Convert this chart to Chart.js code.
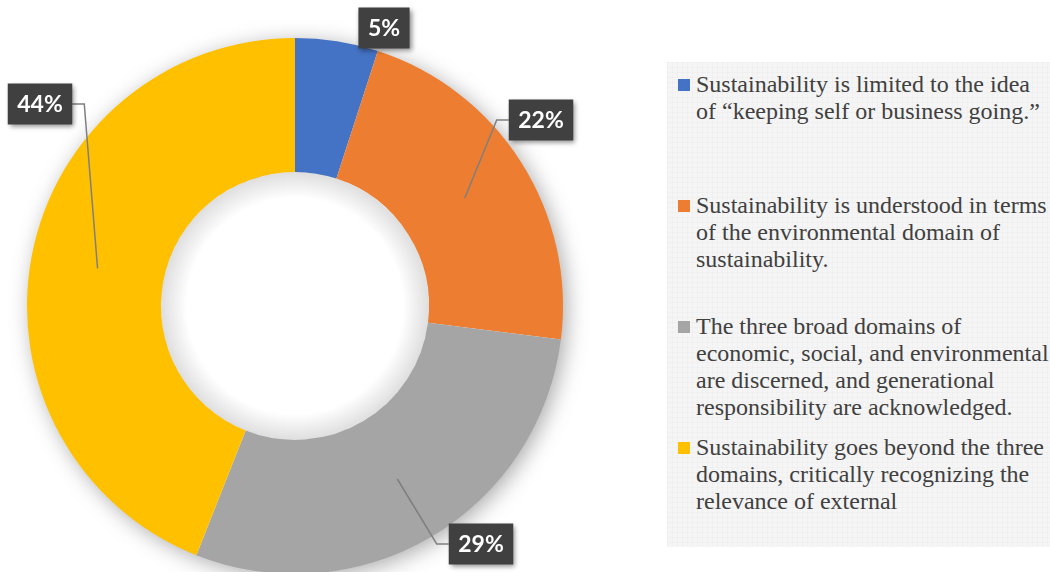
<!DOCTYPE html>
<html>
<head>
<meta charset="utf-8">
<script src="https://cdn.jsdelivr.net/npm/chart.js@4"></script>
<style>
  html, body { margin: 0; padding: 0; background: #fff; overflow: hidden; }
  body { width: 1050px; height: 572px; position: relative; }
  #c { position: absolute; left: 0; top: 0; }
  #legend {
    position: absolute; left: 667px; top: 62px; width: 383px; height: 485px;
    background-color: #f5f5f5;
    background-image:
      linear-gradient(rgba(0,0,0,0.014) 1px, transparent 1px),
      linear-gradient(90deg, rgba(0,0,0,0.014) 1px, transparent 1px);
    background-size: 5px 5px;
  }
  .item { position: absolute; left: 0; width: 383px; }
  .mark { position: absolute; left: 11px; top: 8px; width: 12px; height: 12px; }
  .txt {
    position: absolute; left: 29px; white-space: nowrap;
    font-family: "Liberation Serif", serif; font-size: 24px; line-height: 27px; color: #404040;
  }
</style>
</head>
<body>
<canvas id="c" width="600" height="620"></canvas>
<div id="legend"></div>
<script>
const labels = [
  ["Sustainability is limited to the idea", "of \u201ckeeping self or business going.\u201d"],
  ["Sustainability is understood in terms", "of the environmental domain of", "sustainability."],
  ["The three broad domains of", "economic, social, and environmental", "are discerned, and generational", "responsibility are acknowledged."],
  ["Sustainability goes beyond the three", "domains, critically recognizing the", "relevance of external"]
]
const values = [5, 22, 29, 44]
const colors = ["#4472C4", "#ED7D31", "#A5A5A5", "#FFC000"]

// where the value boxes sit, and whether a leader line runs to the slice
const boxCenters = [[384, 28], [541, 120], [481, 544], [40, 104]]
const leaders = [false, true, true, true]

// soft drop shadow under the ring, inner shadow in the hole
const ringShadow = {
  id: "ringShadow",
  beforeDatasetsDraw(chart) {
    const arc = chart.getDatasetMeta(0).data[0]
    const ctx = chart.ctx
    ctx.save()
    ctx.shadowColor = "rgba(0,0,0,0.35)"
    ctx.shadowBlur = 22
    ctx.shadowOffsetX = 4
    ctx.shadowOffsetY = 4
    ctx.fillStyle = "#fff"
    ctx.beginPath()
    ctx.arc(arc.x, arc.y, arc.outerRadius - 1, 0, Math.PI * 2)
    ctx.fill()
    ctx.restore()
  },
  afterDatasetsDraw(chart) {
    const arc = chart.getDatasetMeta(0).data[0]
    const ctx = chart.ctx
    const r = arc.innerRadius
    const g = ctx.createRadialGradient(arc.x, arc.y, r - 26, arc.x, arc.y, r)
    g.addColorStop(0, "rgba(0,0,0,0)")
    g.addColorStop(1, "rgba(0,0,0,0.13)")
    ctx.save()
    ctx.fillStyle = g
    ctx.beginPath()
    ctx.arc(arc.x, arc.y, r, 0, Math.PI * 2)
    ctx.fill()
    ctx.restore()
  }
}

// dark value boxes with leader lines into the middle of each slice
const valueBoxes = {
  id: "valueBoxes",
  afterDraw(chart) {
    const ctx = chart.ctx
    const meta = chart.getDatasetMeta(0)
    ctx.save()
    ctx.font = "bold 23px Lato, 'Open Sans', sans-serif"
    meta.data.forEach((arc, i) => {
      const p = arc.getProps(["x", "y", "startAngle", "endAngle", "innerRadius", "outerRadius"])
      const mid = (p.startAngle + p.endAngle) / 2
      const rm = (p.innerRadius + p.outerRadius) / 2
      const px = p.x + Math.cos(mid) * rm
      const py = p.y + Math.sin(mid) * rm
      const txt = values[i] + "%"
      const w = ctx.measureText(txt).width + 19
      const h = 41
      const [cx, cy] = boxCenters[i]
      const left = cx - w / 2

      if (leaders[i]) {
        const sx = px < cx ? left : left + w
        const ex = px < cx ? sx - 12 : sx + 12
        ctx.strokeStyle = "#7f7f7f"
        ctx.lineWidth = 1.5
        ctx.beginPath()
        ctx.moveTo(sx, cy)
        ctx.lineTo(ex, cy)
        ctx.lineTo(px, py)
        ctx.stroke()
      }

      ctx.save()
      ctx.shadowColor = "rgba(0,0,0,0.45)"
      ctx.shadowBlur = 5
      ctx.shadowOffsetX = 2
      ctx.shadowOffsetY = 2
      ctx.fillStyle = "#404040"
      ctx.fillRect(left, cy - h / 2, w, h)
      ctx.restore()
      ctx.fillStyle = "#fff"
      ctx.textAlign = "center"
      ctx.textBaseline = "middle"
      ctx.fillText(txt, cx, cy + 1)
    })
    ctx.restore()
  }
}

const chart = new Chart(document.getElementById("c"), {
  type: "doughnut",
  data: {
    labels: labels,
    datasets: [{
      data: values,
      backgroundColor: colors,
      borderWidth: 0
    }]
  },
  options: {
    responsive: false,
    animation: false,
    radius: 268,
    cutout: "50%",
    layout: { padding: { left: 0, right: 10, top: 0, bottom: 8 } },
    plugins: {
      legend: { display: false },
      tooltip: { enabled: false }
    }
  },
  plugins: [ringShadow, valueBoxes]
})

// legend panel on the right
const legend = document.getElementById("legend")
labels.forEach((lines, i) => {
  const item = document.createElement("div")
  item.className = "item"
  item.style.top = (9 + i * 121) + "px"
  const mark = document.createElement("div")
  mark.className = "mark"
  mark.style.background = colors[i]
  const t = document.createElement("div")
  t.className = "txt"
  t.innerHTML = lines.join("<br>")
  item.appendChild(mark)
  item.appendChild(t)
  legend.appendChild(item)
})
</script>
</body>
</html>
